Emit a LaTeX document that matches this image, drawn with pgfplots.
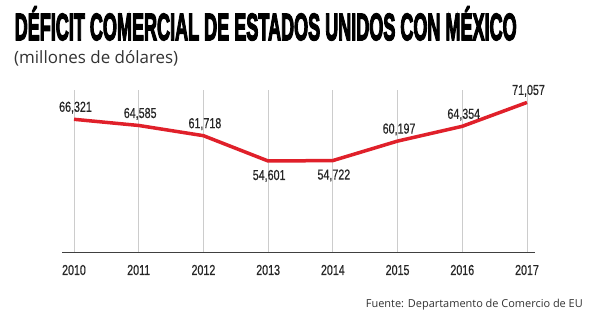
\documentclass[border=0pt]{standalone}
\usepackage{fontspec}
\usepackage{graphicx}
\usepackage{pgfplots}
\pgfplotsset{compat=1.18}
\setmainfont{Liberation Sans}
\newfontfamily\cond[FakeStretch=0.74, FakeBold=0.4]{Liberation Sans}
\newfontfamily\titlefont[FakeBold=4.5]{Liberation Sans Bold}
\newfontfamily\opensans{Open Sans}
\definecolor{linered}{HTML}{E0202A}
\begin{document}
\begin{tikzpicture}
\useasboundingbox[fill=white] (0,0) rectangle (600bp,323bp);
\node[anchor=base west, inner sep=0pt] at (14.5bp,283bp)
  {\titlefont\fontsize{36}{36}\selectfont\resizebox{502bp}{26bp}{\raisebox{0pt}[\fontcharht\font`D][0pt]{DÉFICIT COMERCIAL DE ESTADOS UNIDOS CON MÉXICO}}};
\node[anchor=base west, inner sep=0pt, text=black!80] at (14bp,259.5bp)
  {\opensans\fontsize{17}{17}\selectfont (millones de dólares)};
\node[anchor=base east, inner sep=0pt, text=black!80] at (583bp,16bp)
  {\opensans\fontsize{11}{11}\selectfont Fuente: Departamento de Comercio de EU};
\begin{axis}[
  at={(62bp,70bp)}, anchor=south west,
  scale only axis, width=473bp, height=163bp,
  xmin=2009.8146, xmax=2017.1236,
  ymin=28744, ymax=74556,
  axis x line=bottom, axis y line=none,
  axis line style={-, black!75, line width=1bp},
  xtick={2010,2011,2012,2013,2014,2015,2016,2017},
  xticklabels={2010,2011,2012,2013,2014,2015,2016,2017},
  major tick length=0pt,
  xmajorgrids,
  major grid style={black!20, line width=0.8bp},
  xticklabel style={font=\cond\fontsize{14.5}{14.5}\selectfont, text=black!85, anchor=base, inner sep=0pt, yshift=-22bp},
  ytick=\empty,
  clip=false,
  /pgf/number format/.cd, fixed, precision=0, 1000 sep={,}, assume math mode=true,
]
\addplot[linered, line width=3.5bp, line join=round, mark=none] coordinates {
  (2010,66321) (2011,64585) (2012,61718) (2013,54601)
  (2014,54722) (2015,60197) (2016,64354) (2017,71057)
};
\addplot[draw=none, mark=none, nodes near coords, point meta=y,
  every node near coord/.style={font=\cond\fontsize{14.5}{14.5}\selectfont, text=black!85, anchor=base, inner sep=0pt, yshift=7.5bp, xshift=1.5bp}]
  coordinates {
  (2010,66321) (2011,64585) (2012,61718)
  (2015,60197) (2016,64354) (2017,71057)
};
\addplot[draw=none, mark=none, nodes near coords, point meta=y,
  every node near coord/.style={font=\cond\fontsize{14.5}{14.5}\selectfont, text=black!85, anchor=base, inner sep=0pt, yshift=-19bp, xshift=1bp}]
  coordinates {
  (2013,54601) (2014,54722)
};
\end{axis}
\end{tikzpicture}
\end{document}
